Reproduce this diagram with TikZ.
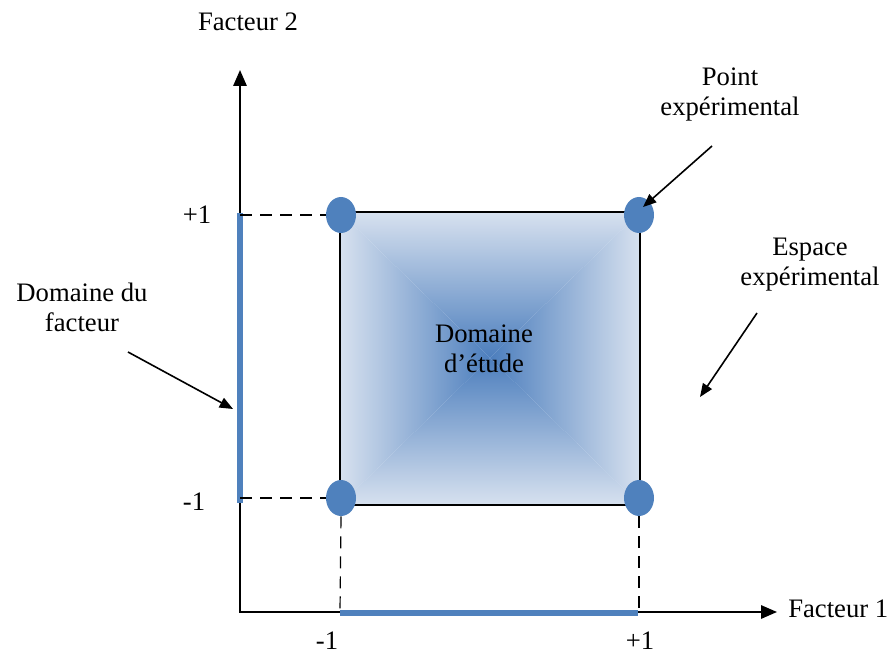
\documentclass[tikz,border=0pt]{standalone}
\usepackage{fontspec}
\setmainfont{Liberation Serif}
\usetikzlibrary{arrows.meta,shapes.geometric,calc}
\definecolor{dotblue}{RGB}{79,129,189}
\definecolor{edgeblue}{RGB}{215,225,239}
\definecolor{midblue}{RGB}{205,217,235}
\definecolor{coreblue}{RGB}{76,126,189}
\begin{document}
\begin{tikzpicture}[x=0.75pt,y=-0.75pt,
  font=\fontsize{20}{22.5}\selectfont,
  axisline/.style={line width=1.5pt,{Triangle[length=12pt,width=10pt]}-{Triangle[length=12pt,width=10pt]}},
  callout/.style={line width=1.2pt,-{Triangle[length=10pt,width=8pt]}},
  guide/.style={dash pattern=on 9pt off 6pt,line width=0.9pt},
  fdomain/.style={line width=4.5pt,draw=dotblue},
  expt/.style={ellipse,fill=dotblue,minimum width=22.5pt,minimum height=27pt,inner sep=0pt},
  lbl/.style={align=center,inner sep=0pt}]
\useasboundingbox (0,0) rectangle (895,655);

% axes
\coordinate (O) at (240,612);
\coordinate (ytip) at (240,70);
\coordinate (xtip) at (777,612);
\draw[axisline] (ytip) -- (O) -- (xtip);

% study domain square
\coordinate (A) at (340,212);
\coordinate (B) at (640,212);
\coordinate (C) at (640,505);
\coordinate (D) at (340,505);
\coordinate (M) at (490,358);
\shade[top color=edgeblue,middle color=midblue,bottom color=coreblue] (A) -- (B) -- (M) -- cycle;
\shade[top color=coreblue,middle color=midblue,bottom color=edgeblue] (D) -- (C) -- (M) -- cycle;
\shade[left color=edgeblue,middle color=midblue,right color=coreblue] (A) -- (D) -- (M) -- cycle;
\shade[left color=coreblue,middle color=midblue,right color=edgeblue] (B) -- (C) -- (M) -- cycle;
\draw[line width=1.3pt] (A) rectangle (C);

% factor ranges
\draw[fdomain] (240,213) -- (240,503);
\draw[fdomain] (340,613) -- (638,613);

% experimental points
\node[expt] (TL) at (341,215) {};
\node[expt] (TR) at (639,215) {};
\node[expt] (BL) at (341,498) {};
\node[expt] (BR) at (639,498) {};

% guides
\coordinate (g1) at (240,215);
\coordinate (g2) at (240,498);
\coordinate (g3) at (340,612);
\coordinate (g4) at (639,612);
\draw[guide] (g1) -- (TL.west);
\draw[guide] (g2) -- (BL.west);
\draw[guide] (BL.south) -- (g3);
\draw[guide] (BR.south) -- (g4);

% labels
\node[lbl] (f2) at (248,22) {Facteur 2};
\node[lbl,anchor=west] (f1) at (788,609) {Facteur 1};
\node[lbl] (yp) at (197,215) {+1};
\node[lbl] (ym) at (194,502) {-1};
\node[lbl] (xm) at (327,641) {-1};
\node[lbl] (xp) at (640,641) {+1};
\node[lbl] (pt) at (730,95) {Point\\expérimental};
\node[lbl] (es) at (810,265) {Espace\\expérimental};
\node[lbl] (df) at (82,307) {Domaine du\\facteur};
\node[lbl] (de) at (484,349) {Domaine\\d’étude};

% callouts
\coordinate (pa) at (712,146);
\coordinate (pb) at (643,207);
\coordinate (ea) at (757,313);
\coordinate (eb) at (700,397);
\coordinate (da) at (128,352);
\coordinate (db) at (233,409);
\draw[callout] (pa) -- (pb);
\draw[callout] (ea) -- (eb);
\draw[callout] (da) -- (db);
\end{tikzpicture}
\end{document}
